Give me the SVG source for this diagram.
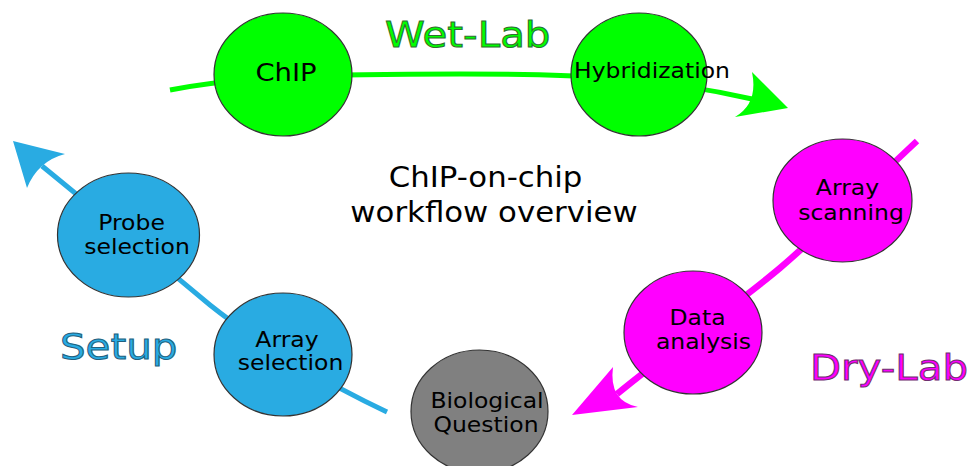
<svg xmlns="http://www.w3.org/2000/svg" width="969" height="466" viewBox="0 0 969 466">
  <style>
    .node { stroke: #333333; stroke-width: 1.2; }
    .lbl { font-family: "DejaVu Sans", "Liberation Sans", sans-serif; font-size: 21px; fill: #000000; text-anchor: middle; }
    .title { font-family: "DejaVu Sans", "Liberation Sans", sans-serif; font-size: 27.5px; fill: #000000; text-anchor: middle; }
    .phase { font-family: "DejaVu Sans", "Liberation Sans", sans-serif; font-size: 36px; stroke-width: 1; }
    .wire { fill: none; }
  </style>

  <!-- connectors: three phase arcs with their arrowheads -->
  <g id="connectors">
    <path class="wire" d="M170,90 C240,76 330,74 460,74 C580,74 660,78 752,99" stroke="#00ff00" stroke-width="5"/>
    <path d="M788,108 L752,72 Q758.5,103.5 735,117 Z" fill="#00ff00"/>

    <path class="wire" d="M917,141 C870,185 830,225 780,268 C730,310 670,350 617,394" stroke="#ff00ff" stroke-width="6.5"/>
    <path d="M572,415 L613,367 Q608.5,401 638,407 Z" fill="#ff00ff"/>

    <path class="wire" d="M387,412 C330,385 260,345 210,305 C150,255 90,205 42,166" stroke="#29abe2" stroke-width="5"/>
    <path d="M13,141 L65,154 Q38,161 27,188 Z" fill="#29abe2"/>
  </g>

  <!-- wet-lab steps -->
  <g id="chip">
    <ellipse class="node" cx="283" cy="74.5" rx="69" ry="61.5" fill="#00ff00"/>
    <text class="lbl" transform="translate(286 81) scale(1.12 1)" style="font-size:24.5px">ChIP</text>
  </g>
  <g id="hybridization">
    <ellipse class="node" cx="639" cy="74.5" rx="68" ry="61.5" fill="#00ff00"/>
    <text class="lbl" transform="translate(652 78) scale(1.12 1)">Hybridization</text>
  </g>

  <!-- dry-lab steps -->
  <g id="array-scanning">
    <ellipse class="node" cx="842.5" cy="200.5" rx="69.5" ry="61.5" fill="#ff00ff"/>
    <text class="lbl" transform="translate(847.5 195) scale(1.12 1)">Array</text>
    <text class="lbl" transform="translate(851 220) scale(1.12 1)">scanning</text>
  </g>
  <g id="data-analysis">
    <ellipse class="node" cx="693" cy="332.5" rx="69" ry="61.5" fill="#ff00ff"/>
    <text class="lbl" transform="translate(697.5 325) scale(1.12 1)">Data</text>
    <text class="lbl" transform="translate(703.5 349) scale(1.12 1)">analysis</text>
  </g>

  <!-- starting point -->
  <g id="biological-question">
    <ellipse class="node" cx="479.5" cy="411.5" rx="68.5" ry="61.5" fill="#808080"/>
    <text class="lbl" transform="translate(487 408) scale(1.12 1)">Biological</text>
    <text class="lbl" transform="translate(486 432) scale(1.12 1)">Question</text>
  </g>

  <!-- setup steps -->
  <g id="array-selection">
    <ellipse class="node" cx="283" cy="354.5" rx="69" ry="61.5" fill="#29abe2"/>
    <text class="lbl" transform="translate(287 347) scale(1.12 1)">Array</text>
    <text class="lbl" transform="translate(290.5 370) scale(1.12 1)">selection</text>
  </g>
  <g id="probe-selection">
    <ellipse class="node" cx="128.5" cy="235" rx="71" ry="62" fill="#29abe2"/>
    <text class="lbl" transform="translate(131.5 230) scale(1.12 1)">Probe</text>
    <text class="lbl" transform="translate(137 254) scale(1.12 1)">selection</text>
  </g>

  <!-- phase captions and title -->
  <g id="labels">
    <text class="phase" transform="translate(385 47) scale(1.12 1)" fill="#00ff00" stroke="#2f6e2f">Wet-Lab</text>
    <text class="phase" transform="translate(810 380) scale(1.12 1)" fill="#ff00ff" stroke="#6e2f6e">Dry-Lab</text>
    <text class="phase" transform="translate(60 359) scale(1.12 1)" fill="#29abe2" stroke="#21607e">Setup</text>
    <text class="title" transform="translate(485.5 187) scale(1.12 1)">ChIP-on-chip</text>
    <text class="title" transform="translate(494 222) scale(1.12 1)">workflow overview</text>
  </g>
</svg>
